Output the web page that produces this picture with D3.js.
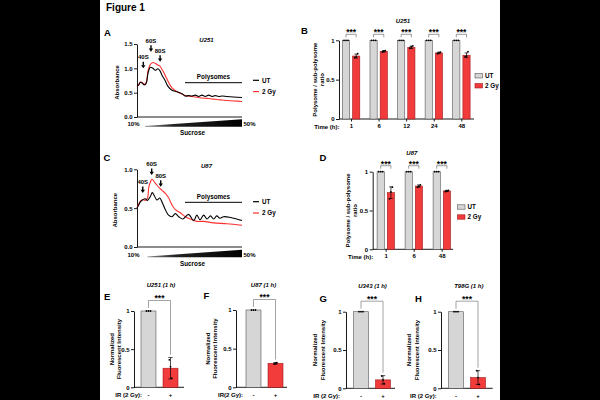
<!DOCTYPE html>
<html><head><meta charset="utf-8">
<script src="https://cdn.jsdelivr.net/npm/d3@7"></script>
<style>
body{margin:0;background:#000;}
svg text{font-family:"Liberation Sans",Arial,sans-serif;font-weight:bold;fill:#000;}
</style>
</head><body>
<svg id="c" width="600" height="400"></svg>
<script>
// ---------------- DATA ----------------
// Panel A (U251 polysome profiles), x = fraction along gradient (0 = 10%, 1 = 50%)
const u251UTFrac = [0,0.016,0.032,0.048,0.07,0.089,0.105,0.127,0.152,0.175,0.197,0.216,0.238,0.27,0.292,0.333,0.381,0.429,0.46,0.49,0.524,0.556,0.587,0.619,0.65,0.683,0.714,0.746,0.778,0.81,0.857,0.92,1.0];
const u251UT     = [0.63,0.66,0.71,0.70,0.66,0.70,0.90,1.02,1.00,0.96,0.99,0.96,0.86,0.74,0.64,0.55,0.52,0.48,0.43,0.44,0.43,0.45,0.42,0.45,0.42,0.45,0.42,0.44,0.42,0.43,0.42,0.41,0.40];
const u251GyFrac = [0,0.016,0.032,0.048,0.07,0.089,0.105,0.127,0.152,0.175,0.197,0.216,0.238,0.27,0.292,0.333,0.381,0.429,0.46,0.49,0.524,0.556,0.587,0.619,0.65,0.683,0.714,0.746,0.778,0.81,0.857,0.92,1.0];
const u251Gy     = [0.63,0.66,0.72,0.71,0.67,0.72,0.95,1.08,1.12,1.10,1.07,1.05,0.98,0.85,0.75,0.60,0.52,0.47,0.44,0.43,0.42,0.41,0.40,0.39,0.385,0.38,0.37,0.365,0.355,0.35,0.34,0.33,0.32];
// Panel C (U87 polysome profiles)
const u87UTFrac = [0,0.016,0.032,0.057,0.079,0.1,0.127,0.146,0.165,0.19,0.216,0.238,0.27,0.3,0.333,0.365,0.397,0.438,0.49,0.54,0.57,0.6,0.635,0.667,0.7,0.73,0.76,0.79,0.825,0.89,1.0];
const u87UT     = [0.50,0.54,0.58,0.61,0.62,0.60,0.65,0.70,0.66,0.605,0.63,0.58,0.48,0.41,0.39,0.43,0.39,0.36,0.42,0.34,0.41,0.35,0.41,0.36,0.40,0.36,0.40,0.37,0.39,0.38,0.34];
const u87GyFrac = [0,0.016,0.032,0.057,0.079,0.1,0.114,0.143,0.175,0.206,0.238,0.27,0.302,0.333,0.365,0.413,0.46,0.508,0.571,0.635,0.73,0.857,1.0];
const u87Gy     = [0.50,0.55,0.59,0.61,0.60,0.63,0.78,0.87,0.82,0.77,0.73,0.69,0.63,0.54,0.48,0.44,0.39,0.36,0.33,0.33,0.31,0.30,0.28];
// ribosome peak annotations
const peakLabels = ["40S","60S","80S"];
const u251PeakX = [0.06,0.133,0.22];
const u251PeakY = [1.0,1.34,1.135];
const u87PeakX  = [0.055,0.14,0.226];
const u87PeakY  = [0.695,0.927,0.776];

// Panel B (U251 polysome / sub-polysome ratio)
const timesB = ["1","6","12","24","48"];
const bUT = [1,1,1,1,1];
const bGy = [0.80,0.86,0.91,0.84,0.81];
const bGyErr = [0.025,0.01,0.015,0.01,0.03];
const bGyReps = [[0.78,0.79,0.83],[0.85,0.86,0.87],[0.90,0.92,0.93],[0.83,0.84,0.85],[0.79,0.80,0.855]];
// Panel D (U87)
const timesD = ["1","6","48"];
const dUT = [1,1,1];
const dGy = [0.73,0.815,0.752];
const dGyErr = [0.075,0.015,0.008];
const dGyReps = [[0.65,0.74,0.80],[0.80,0.81,0.83],[0.745,0.75,0.76]];

// Panels E-H (normalized fluorescent intensity, 1 h)
const cellTitles = ["U251 (1 h)","U87 (1 h)","U343 (1 h)","T98G (1 h)"];
const irLabels = ["-","+"];
const irUT = [1,1,1,1];
const irGy = [0.25,0.31,0.11,0.14];
const irGyErr = [0.14,0.01,0.055,0.09];
const irGyReps = [[0.36,0.27,0.12],[0.30,0.31,0.32],[0.16,0.11,0.06],[0.23,0.14,0.05]];

// ---------------- DRAW ----------------
const svg = d3.select("#c");
svg.append("rect").attr("x",100).attr("y",0).attr("width",400).attr("height",400).attr("fill","#fff");
const RED = "#f23c3c", RED_D = "#a01818", GRAY = "#d6d6d6", GRAY_D = "#555";
const FS = 6;

function text(x,y,s,o={}){
  const t = svg.append("text").attr("x",x).attr("y",y).text(s)
    .attr("font-size",o.size||FS).attr("text-anchor",o.anchor||"middle");
  if(o.italic) t.attr("font-style","italic");
  if(o.rot) t.attr("transform",`rotate(-90,${x},${y})`);
  return t;
}
function styleAxis(g){
  g.attr("font-family",null).attr("font-size",FS);
  g.selectAll("path,line").attr("stroke","#000").attr("stroke-width",0.9);
  g.selectAll("text").attr("font-size",FS);
}
function arrow(x,yTip){
  svg.append("line").attr("x1",x).attr("x2",x).attr("y1",yTip-6.5).attr("y2",yTip-2.5).attr("stroke","#000").attr("stroke-width",1.4);
  svg.append("path").attr("d",`M${x-2.2},${yTip-3.2}L${x+2.2},${yTip-3.2}L${x},${yTip}Z`).attr("fill","#000");
}
function stars(x,y){ text(x, y, "***", {size:8.5}); }

function profile(c){
  const x = d3.scaleLinear().domain([0,1]).range([c.x0,c.x1]);
  const y = d3.scaleLinear().domain([0,c.ymax]).range([c.y0,c.yTop]);
  const g = svg.append("g").attr("transform",`translate(${c.x0},0)`)
    .call(d3.axisLeft(y).tickValues(c.ticks).tickFormat(d3.format(".1f")).tickSize(3).tickSizeOuter(0).tickPadding(1.5));
  styleAxis(g);
  svg.append("line").attr("x1",c.x0).attr("x2",c.x1).attr("y1",c.y0).attr("y2",c.y0).attr("stroke","#000").attr("stroke-width",0.9);
  const line = d3.line().x(d=>x(d[0])).y(d=>y(d[1])).curve(d3.curveCatmullRom.alpha(0.5));
  svg.append("path").datum(d3.zip(c.gyX,c.gy)).attr("d",line).attr("fill","none").attr("stroke","#ff3030").attr("stroke-width",1.1);
  svg.append("path").datum(d3.zip(c.utX,c.ut)).attr("d",line).attr("fill","none").attr("stroke","#000").attr("stroke-width",1.1);
  peakLabels.forEach((l,i)=>{
    arrow(x(c.peakX[i]), y(c.peakY[i]));
    text(x(c.peakX[i]), y(c.peakY[i])-9, l);
  });
  svg.append("line").attr("x1",x(c.polyX0)).attr("x2",x(1)).attr("y1",y(c.polyY)).attr("y2",y(c.polyY)).attr("stroke","#000").attr("stroke-width",1);
  text((x(c.polyX0)+x(1))/2, y(c.polyY)-3.5, "Polysomes", {size:6.3});
  const lx = c.x1+11;
  [["UT","#000",c.legY],["2 Gy","#ff3030",c.legY+11.3]].forEach(([l,col,ly])=>{
    svg.append("line").attr("x1",lx).attr("x2",lx+6).attr("y1",ly).attr("y2",ly).attr("stroke",col).attr("stroke-width",1.2);
    text(lx+9,ly+2.2,l,{anchor:"start",size:6.3});
  });
  const w0 = x(c.wedgeX0), w1 = x(1);
  const grad = svg.append("defs").append("linearGradient").attr("id",c.gid);
  grad.append("stop").attr("offset","0%").attr("stop-color","#888");
  grad.append("stop").attr("offset","30%").attr("stop-color","#222");
  grad.append("stop").attr("offset","100%").attr("stop-color","#000");
  svg.append("path").attr("d",`M${w0},${c.wedgeB-0.8}L${w1},${c.wedgeB-7.5}L${w1},${c.wedgeB}L${w0},${c.wedgeB}Z`).attr("fill",`url(#${c.gid})`);
  text(c.x0-3.5, c.wedgeB-0.5, "10%");
  text(c.x1+7.5, c.wedgeB-0.5, "50%");
  text((c.x0+c.x1)/2+3, c.wedgeB+8.5, "Sucrose", {size:6.3});
  text(c.ylabX, (c.y0+c.yTop)/2+2, "Absorbance", {rot:true});
  text((c.x0+c.x1)/2+17, c.titleY, c.title, {italic:true});
}

function grouped(c){
  const x = d3.scalePoint().domain(c.cats).range([c.c0,c.c1]);
  const y = d3.scaleLinear().domain([0,1]).range([c.y0,c.y1]);
  const g = svg.append("g").attr("transform",`translate(${c.ax},0)`)
    .call(d3.axisLeft(y).tickValues([0,0.5,1]).tickFormat(d3.format("~g")).tickSize(3).tickSizeOuter(0).tickPadding(1.5));
  styleAxis(g);
  const gx = svg.append("g").attr("transform",`translate(0,${c.y0})`)
    .call(d3.axisBottom(x).tickSize(2.5).tickSizeOuter(0).tickPadding(2));
  styleAxis(gx);
  gx.select(".domain").remove();
  svg.append("line").attr("x1",c.ax).attr("x2",c.xEnd).attr("y1",c.y0).attr("y2",c.y0).attr("stroke","#000").attr("stroke-width",0.9);
  const bw = 7.2;
  c.cats.forEach((k,i)=>{
    const cx = x(k);
    svg.append("rect").attr("x",cx-8.6).attr("width",bw).attr("y",y(c.ut[i])).attr("height",y(0)-y(c.ut[i]))
      .attr("fill",GRAY).attr("stroke",GRAY_D).attr("stroke-width",0.6);
    svg.append("rect").attr("x",cx+1.6).attr("width",bw).attr("y",y(c.gy[i])).attr("height",y(0)-y(c.gy[i]))
      .attr("fill",RED).attr("stroke",RED_D).attr("stroke-width",0.6);
    [-7,-5,-3].forEach(o=>svg.append("circle").attr("cx",cx+o).attr("cy",y(1)).attr("r",0.9).attr("fill","#000"));
    const rc = cx+1.6+bw/2;
    svg.append("line").attr("x1",rc).attr("x2",rc).attr("y1",y(c.gy[i]+c.err[i])).attr("y2",y(c.gy[i]-c.err[i])).attr("stroke","#000").attr("stroke-width",0.7);
    [c.gy[i]+c.err[i], c.gy[i]-c.err[i]].forEach(v=>svg.append("line").attr("x1",rc-1.8).attr("x2",rc+1.8).attr("y1",y(v)).attr("y2",y(v)).attr("stroke","#000").attr("stroke-width",0.7));
    c.reps[i].forEach((v,j)=>svg.append("circle").attr("cx",rc-1.5+j*1.5).attr("cy",y(v)).attr("r",0.9).attr("fill","#000"));
    const uc = cx-8.6+bw/2, by = y(1)-6;
    svg.append("path").attr("d",`M${uc},${by+3}V${by}H${rc}V${by+3}`).attr("fill","none").attr("stroke","#555").attr("stroke-width",0.6);
    stars((uc+rc)/2, by+1);
  });
  text(c.ax+0.5, c.y0+10, "Time (h):", {anchor:"end"});
  text(c.ylabX, (c.y0+c.y1)/2, "Polysome / sub-polysome", {rot:true});
  text(c.ylabX+7, (c.y0+c.y1)/2, "ratio", {rot:true});
  [["UT",GRAY,GRAY_D,c.legY],["2 Gy",RED,RED_D,c.legY+10]].forEach(([l,f,s,ly])=>{
    svg.append("rect").attr("x",c.legX).attr("y",ly-2.2).attr("width",7.5).attr("height",4.4).attr("fill",f).attr("stroke",s).attr("stroke-width",0.6);
    text(c.legX+10, ly+2.2, l, {anchor:"start",size:6.3});
  });
  text((c.ax+c.xEnd)/2+c.titleDx, c.titleY, c.title, {italic:true});
}

function irPanel(c,i){
  const x = d3.scaleBand().domain(irLabels).range([c.b0,c.b0+37]).paddingInner(0.32).paddingOuter(0);
  const y = d3.scaleLinear().domain([0,1]).range([c.y0,c.y1]);
  const g = svg.append("g").attr("transform",`translate(${c.ax},0)`)
    .call(d3.axisLeft(y).tickValues([0,0.5,1]).tickFormat(d3.format("~g")).tickSize(3).tickSizeOuter(0).tickPadding(1.5));
  styleAxis(g);
  svg.append("line").attr("x1",c.ax).attr("x2",c.xEnd).attr("y1",c.y0).attr("y2",c.y0).attr("stroke","#000").attr("stroke-width",0.9);
  const vals = [irUT[i], irGy[i]];
  irLabels.forEach((k,j)=>{
    svg.append("rect").attr("x",x(k)).attr("width",x.bandwidth()).attr("y",y(vals[j])).attr("height",y(0)-y(vals[j]))
      .attr("fill",j?RED:GRAY).attr("stroke",j?RED_D:GRAY_D).attr("stroke-width",0.6);
    text(x(k)+x.bandwidth()/2, c.y0+10, k);
  });
  const uc = x("-")+x.bandwidth()/2, rc = x("+")+x.bandwidth()/2;
  [-2,0,2].forEach(o=>svg.append("circle").attr("cx",uc+o).attr("cy",y(1)).attr("r",0.9).attr("fill","#000"));
  const m = irGy[i], e = irGyErr[i];
  svg.append("line").attr("x1",rc).attr("x2",rc).attr("y1",y(m+e)).attr("y2",y(Math.max(0,m-e))).attr("stroke","#000").attr("stroke-width",0.7);
  [m+e, Math.max(0,m-e)].forEach(v=>svg.append("line").attr("x1",rc-2.2).attr("x2",rc+2.2).attr("y1",y(v)).attr("y2",y(v)).attr("stroke","#000").attr("stroke-width",0.7));
  irGyReps[i].forEach((v,j)=>svg.append("circle").attr("cx",rc-1.2+j*1.2).attr("cy",y(v)).attr("r",0.9).attr("fill","#000"));
  const by = c.y1-10.5;
  svg.append("path").attr("d",`M${uc},${y(1)-3}V${by}H${rc}V${y(m+e)-3}`).attr("fill","none").attr("stroke","#666").attr("stroke-width",0.6);
  stars((uc+rc)/2, by+0.5);
  text(c.irX, c.y0+10, c.irText, {anchor:"end"});
  text(c.ylabX, (c.y0+c.y1)/2, "Normalized", {rot:true});
  text(c.ylabX+7.5, (c.y0+c.y1)/2, "Fluorescent Intensity", {rot:true});
  text((c.ax+c.xEnd)/2+2, c.titleY, cellTitles[i], {italic:true});
  text(c.letX, c.letY, c.letter, {anchor:"start", size:9.5});
}

text(106, 11, "Figure 1", {anchor:"start", size:10});
text(104, 35.5, "A", {anchor:"start", size:9.5});
text(301, 34, "B", {anchor:"start", size:9.5});
text(103.5, 161, "C", {anchor:"start", size:9.5});
text(319.5, 161, "D", {anchor:"start", size:9.5});

profile({x0:137,x1:242,y0:117,yTop:44,ymax:1.5,ticks:[0,0.5,1,1.5],
  utX:u251UTFrac,ut:u251UT,gyX:u251GyFrac,gy:u251Gy,peakX:u251PeakX,peakY:u251PeakY,
  polyX0:0.457,polyY:0.705,legY:80.3,wedgeX0:0.075,wedgeB:126.8,gid:"gA",ylabX:119,title:"U251",titleY:41.5});
profile({x0:137,x1:242,y0:247,yTop:169.3,ymax:1.0,ticks:[0,0.5,1],
  utX:u87UTFrac,ut:u87UT,gyX:u87GyFrac,gy:u87Gy,peakX:u87PeakX,peakY:u87PeakY,
  polyX0:0.457,polyY:0.575,legY:201.7,wedgeX0:0.1,wedgeB:257.3,gid:"gC",ylabX:117.5,title:"U87",titleY:167.5});

grouped({cats:timesB,ut:bUT,gy:bGy,err:bGyErr,reps:bGyReps,c0:351,c1:461.3,ax:339,xEnd:474,y0:119,y1:40.3,
  ylabX:317,legX:475,legY:75.8,title:"U251",titleY:23,titleDx:-3.5});
grouped({cats:timesD,ut:dUT,gy:dGy,err:dGyErr,reps:dGyReps,c0:385.7,c1:441.7,ax:372.7,xEnd:453,y0:249.3,y1:171.7,
  ylabX:350,legX:457.5,legY:207,title:"U87",titleY:155,titleDx:-1});

irPanel({ax:134,b0:141,xEnd:184,y0:387.3,y1:311,irX:142,irText:"IR (2 Gy):",ylabX:114,titleY:287,letX:104,letY:300,letter:"E"},0);
irPanel({ax:236,b0:246,xEnd:287,y0:387.3,y1:310,irX:243,irText:"IR(2 Gy):",ylabX:210,titleY:287,letX:203.5,letY:299,letter:"F"},1);
irPanel({ax:346,b0:353.5,xEnd:395,y0:388.3,y1:311.7,irX:340,irText:"IR (2 Gy):",ylabX:317,titleY:288,letX:319.5,letY:302,letter:"G"},2);
irPanel({ax:441,b0:448.5,xEnd:492.7,y0:388.3,y1:311.7,irX:436.7,irText:"IR (2 Gy):",ylabX:411,titleY:288,letX:415,letY:302,letter:"H"},3);
</script>
</body></html>
